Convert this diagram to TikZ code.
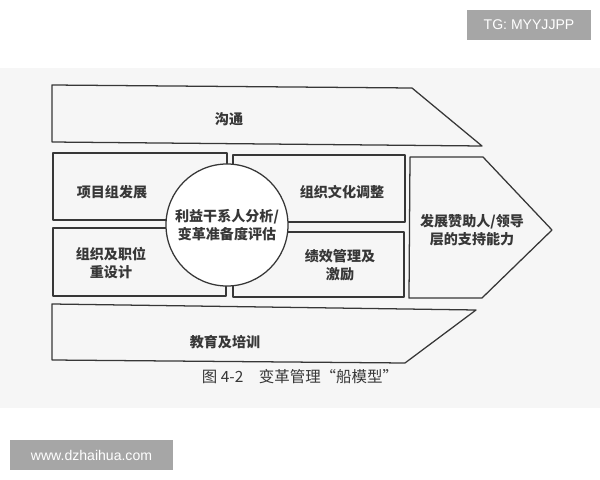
\documentclass[tikz,border=0pt]{standalone}
\usepackage{fontspec}
\setmainfont{Liberation Sans}
\newfontfamily\cjk{Noto Sans CJK SC}
\definecolor{inkc}{RGB}{55,55,55}
\definecolor{markc}{RGB}{166,166,166}
\definecolor{paperc}{RGB}{246,246,246}

\begin{document}
\begin{tikzpicture}[x=0.025cm, y=-0.025cm,
		part/.style={draw=inkc, line width=0.9pt, line join=round},
		lbl/.style={text=inkc, align=center, font=\cjk\bfseries\fontsize{10}{13}\selectfont},
		tagbox/.style={fill=markc, text=white, font=\fontsize{10}{12}\selectfont, minimum height=0.75cm, inner sep=0pt}]
			\useasboundingbox (0, 0) rectangle (600, 480);
			\fill [paperc] (0, 68) rectangle (600, 408);
			% upper and lower bands
			\draw [part] (52, 85) -- (412, 88) -- (482, 146) -- (52, 142) -- cycle;
			\draw [part] (52, 304) -- (476, 310) -- (405, 363) -- (52, 360) -- cycle;
			% four boxes round the hub
			\draw [part] (53, 153) rectangle (227, 220);
			\draw [part] (53, 228) rectangle (226, 296);
			\draw [part] (233, 155) rectangle (405, 222);
			\draw [part] (233, 232) rectangle (404, 297);
			% bow
			\draw [part] (410, 157) -- (483, 157) -- (552, 230) -- (482, 298) -- (409, 298) -- cycle;
			\draw (227, 225) node [circle, part, fill=white, minimum size=3.05cm, inner sep=0pt, lbl] (hub) {利益干系人分析/\\变革准备度评估};
			\draw (229, 119) node [lbl] (talk) {沟通};
			\draw (112, 192) node [lbl] (team) {项目组发展};
			\draw (111, 263) node [lbl] (redesign) {组织及职位\\重设计};
			\draw (342, 192) node [lbl] (culture) {组织文化调整};
			\draw (340, 265) node [lbl] (perf) {绩效管理及\\激励};
			\draw (472, 230) node [lbl] (sponsor) {发展赞助人/领导\\层的支持能力};
			\draw (225, 342) node [lbl] (train) {教育及培训};
			\draw (300, 377) node [text=inkc, font=\cjk\fontsize{11}{13}\selectfont] (caption) {图 4-2\quad 变革管理“船模型”};
			% watermarks
			\draw (529, 25) node [tagbox, minimum width=3.1cm] (tg) {TG: MYYJJPP};
			\draw (91.5, 455) node [tagbox, minimum width=4.075cm] (site) {www.dzhaihua.com};
		\end{tikzpicture}
\end{document}
